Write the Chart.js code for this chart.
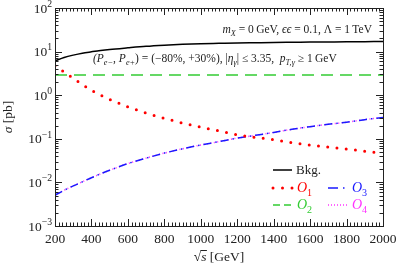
<!DOCTYPE html>
<html>
<head>
<meta charset="utf-8">
<script src="https://cdn.jsdelivr.net/npm/chart.js@4.4.0/dist/chart.umd.min.js"></script>
<style>
  html, body { margin: 0; padding: 0; background: #fff; }
  #wrap { width: 399px; height: 266px; }
</style>
</head>
<body>
<div id="wrap"><canvas id="c" width="399" height="266"></canvas></div>
<script>
// sqrt(s) in GeV, cross sections in pb
const sqrtS = [200, 250, 300, 350, 400, 450, 500, 600, 700, 800, 900, 1000, 1100, 1200, 1300, 1400, 1500, 1600, 1700, 1800, 1900, 2000];
const bkg = [6.1, 7.3, 8.3, 9.2, 9.9, 10.6, 11.2, 12.2, 13.2, 14.0, 14.7, 15.2, 15.5, 15.8, 16.0, 16.2, 16.35, 16.5, 16.65, 16.8, 16.9, 17.0];
const o1 = [4.75, 3.4, 2.45, 1.75, 1.3, 1.0, 0.8, 0.54, 0.39, 0.295, 0.23, 0.185, 0.153, 0.124, 0.108, 0.095, 0.082, 0.072, 0.065, 0.058, 0.052, 0.046];
const o2 = [2.9, 2.9, 2.9, 2.9, 2.9, 2.9, 2.9, 2.9, 2.9, 2.9, 2.9, 2.9, 2.9, 2.9, 2.9, 2.9, 2.9, 2.9, 2.9, 2.9, 2.9, 2.9];
const o3 = [0.0051, 0.0066, 0.0083, 0.0103, 0.0128, 0.0157, 0.019, 0.027, 0.036, 0.047, 0.059, 0.072, 0.086, 0.104, 0.12, 0.14, 0.165, 0.19, 0.215, 0.24, 0.275, 0.31];
const o4 = [0.0051, 0.0066, 0.0083, 0.0103, 0.0128, 0.0157, 0.019, 0.027, 0.036, 0.047, 0.059, 0.072, 0.086, 0.104, 0.12, 0.14, 0.165, 0.19, 0.215, 0.24, 0.275, 0.31];
const xTicks = [200, 400, 600, 800, 1000, 1200, 1400, 1600, 1800, 2000];
const yExponents = [-3, -2, -1, 0, 1, 2];

const SERIF = '"Liberation Serif", "DejaVu Serif", serif';

function pts(ys) {
  return sqrtS.map((x, i) => ({ x: x, y: ys[i] }));
}

// draws a run of text pieces: [text, flags] with flags i=italic, b=subscript, p=superscript
function rich(ctx, x, y, segs, size, align) {
  const parts = segs.map(([t, f = '']) => {
    const small = f.includes('b') || f.includes('p');
    const sz = small ? size * 0.72 : size;
    const font = (f.includes('i') ? 'italic ' : '') + sz + 'px ' + SERIF;
    ctx.font = font;
    let dy = 0;
    if (f.includes('b')) dy = size * 0.28;
    if (f.includes('p')) dy = -size * 0.42;
    return { t, font, dy, w: ctx.measureText(t).width };
  });
  const total = parts.reduce((a, p) => a + p.w, 0);
  let cx = align === 'right' ? x - total : align === 'center' ? x - total / 2 : x;
  ctx.textAlign = 'left';
  ctx.textBaseline = 'alphabetic';
  parts.forEach(p => {
    ctx.font = p.font;
    ctx.fillText(p.t, cx, y + p.dy);
    cx += p.w;
  });
  return total;
}

function sample(ctx, x0, x1, y, color, width, dash, cap) {
  ctx.save();
  ctx.strokeStyle = color;
  ctx.lineWidth = width;
  ctx.setLineDash(dash);
  ctx.lineCap = cap || 'butt';
  ctx.beginPath();
  ctx.moveTo(x0, y);
  ctx.lineTo(x1, y);
  ctx.stroke();
  ctx.restore();
}

const frame = {
  id: 'frame',
  afterDraw(chart) {
    const ctx = chart.ctx;
    const a = chart.chartArea;
    const xs = chart.scales.x, ys = chart.scales.y;
    ctx.save();
    ctx.strokeStyle = '#222';
    ctx.fillStyle = '#222';
    ctx.lineWidth = 1;
    ctx.strokeRect(a.left + 0.5, a.top + 0.5, a.right - a.left, a.bottom - a.top);

    ctx.beginPath();
    // x ticks, major and minor, on bottom and top
    for (let v = 200; v <= 2000; v += 20) {
      const px = Math.round(xs.getPixelForValue(v)) + 0.5;
      const len = (v % 200 === 0) ? 7 : 3.5;
      ctx.moveTo(px, a.bottom); ctx.lineTo(px, a.bottom - len);
      ctx.moveTo(px, a.top); ctx.lineTo(px, a.top + len);
    }
    // y ticks, decades and 2..9
    yExponents.forEach(k => {
      for (let m = 1; m <= 9; m++) {
        if (k === 2 && m > 1) break;
        const py = Math.round(ys.getPixelForValue(m * Math.pow(10, k))) + 0.5;
        const len = m === 1 ? 7 : 3.5;
        ctx.moveTo(a.left, py); ctx.lineTo(a.left + len, py);
        ctx.moveTo(a.right, py); ctx.lineTo(a.right - len, py);
      }
    });
    ctx.stroke();

    // tick labels
    xTicks.forEach(v => {
      rich(ctx, xs.getPixelForValue(v), a.bottom + 17, [[String(v)]], 13.5, 'center');
    });
    yExponents.forEach(k => {
      const py = ys.getPixelForValue(Math.pow(10, k));
      rich(ctx, a.left - 3, py + 4.5, [['10'], [String(k).replace('-', '\u2212'), 'p']], 13.5, 'right');
    });

    // axis titles
    ctx.save();
    ctx.translate(12, (a.top + a.bottom) / 2);
    ctx.rotate(-Math.PI / 2);
    rich(ctx, 0, 0, [['\u03c3', 'i'], [' [pb]']], 13.5, 'center');
    ctx.restore();

    const cxT = (a.left + a.right) / 2;
    ctx.font = '13.5px ' + SERIF;
    const wRoot = ctx.measureText('\u221a').width;
    ctx.font = 'italic 13.5px ' + SERIF;
    const wS = ctx.measureText('s').width;
    const w = rich(ctx, cxT, 261, [['\u221a'], ['s', 'i'], [' [GeV]']], 13.5, 'center');
    const x0 = cxT - w / 2 + wRoot - 0.5;
    ctx.beginPath();
    ctx.moveTo(x0, 250.5); ctx.lineTo(x0 + wS + 1, 250.5);
    ctx.stroke();

    // annotations
    rich(ctx, 372, 33, [
      ['m', 'i'], ['X', 'ib'], [' = 0\u2009GeV, '], ['\u03f5\u03f5', 'i'], [' = 0.1, \u039b = 1\u2009TeV']
    ], 11.5, 'right');
    rich(ctx, 93, 62, [
      ['(P', 'i'], ['e\u2212', 'ib'], [', '], ['P', 'i'], ['e+', 'ib'],
      [') = (\u221280%, +30%), |'], ['\u03b7', 'i'], ['\u03b3', 'ib'], ['| \u2264 3.35,  '],
      ['p', 'i'], ['T,\u03b3', 'ib'], [' \u2265 1\u2009GeV']
    ], 11.5, 'left');

    // legend
    sample(ctx, 273, 292, 170, '#000', 1.5, []);
    ctx.fillStyle = '#222';
    rich(ctx, 296, 174, [['Bkg.']], 13, 'left');

    sample(ctx, 273, 293, 188, '#ff0000', 3, [0, 9.5], 'round');
    ctx.fillStyle = '#ff0000';
    rich(ctx, 297, 192, [['O', 'i'], ['1', 'b']], 14, 'left');

    sample(ctx, 273, 292, 205, '#33cc33', 1.5, [7, 4]);
    ctx.fillStyle = '#33cc33';
    rich(ctx, 297, 209, [['O', 'i'], ['2', 'b']], 14, 'left');

    sample(ctx, 328, 348, 188, '#1a1aff', 1.5, [10, 5, 1.5, 5]);
    ctx.fillStyle = '#1a1aff';
    rich(ctx, 352, 192, [['O', 'i'], ['3', 'b']], 14, 'left');

    sample(ctx, 328, 348, 205, '#ff33ff', 1.5, [1, 2]);
    ctx.fillStyle = '#ff33ff';
    rich(ctx, 352, 209, [['O', 'i'], ['4', 'b']], 14, 'left');

    ctx.restore();
  }
};

const flat = {
  ticks: { display: false }, grid: { display: false }, border: { display: false }
};

new Chart(document.getElementById('c'), {
  type: 'line',
  data: {
    datasets: [
      { label: 'Bkg.', data: pts(bkg), borderColor: '#000', borderWidth: 1.5 },
      { label: 'O1', data: pts(o1), borderColor: '#ff0000', borderWidth: 3, borderDash: [0, 9.3], borderCapStyle: 'round' },
      { label: 'O2', data: pts(o2), borderColor: '#33cc33', borderWidth: 1.5, borderDash: [12, 7] },
      { label: 'O3', data: pts(o3), borderColor: '#1a1aff', borderWidth: 1.5, borderDash: [8, 4, 1.5, 4] },
      { label: 'O4', data: pts(o4), borderColor: '#ff33ff', borderWidth: 1.5, borderDash: [1, 2.5] }
    ]
  },
  options: {
    responsive: false,
    animation: false,
    events: [],
    layout: { padding: { left: 55, right: 16, top: 8, bottom: 40 } },
    elements: {
      point: { radius: 0 },
      line: { cubicInterpolationMode: 'monotone', fill: false }
    },
    plugins: { legend: { display: false }, tooltip: { enabled: false } },
    scales: {
      x: Object.assign({ type: 'linear', min: 200, max: 2000, afterFit(s) { s.height = 0; } }, flat),
      y: Object.assign({ type: 'logarithmic', min: 0.001, max: 100, afterFit(s) { s.width = 0; } }, flat)
    }
  },
  plugins: [frame]
});
</script>
</body>
</html>
